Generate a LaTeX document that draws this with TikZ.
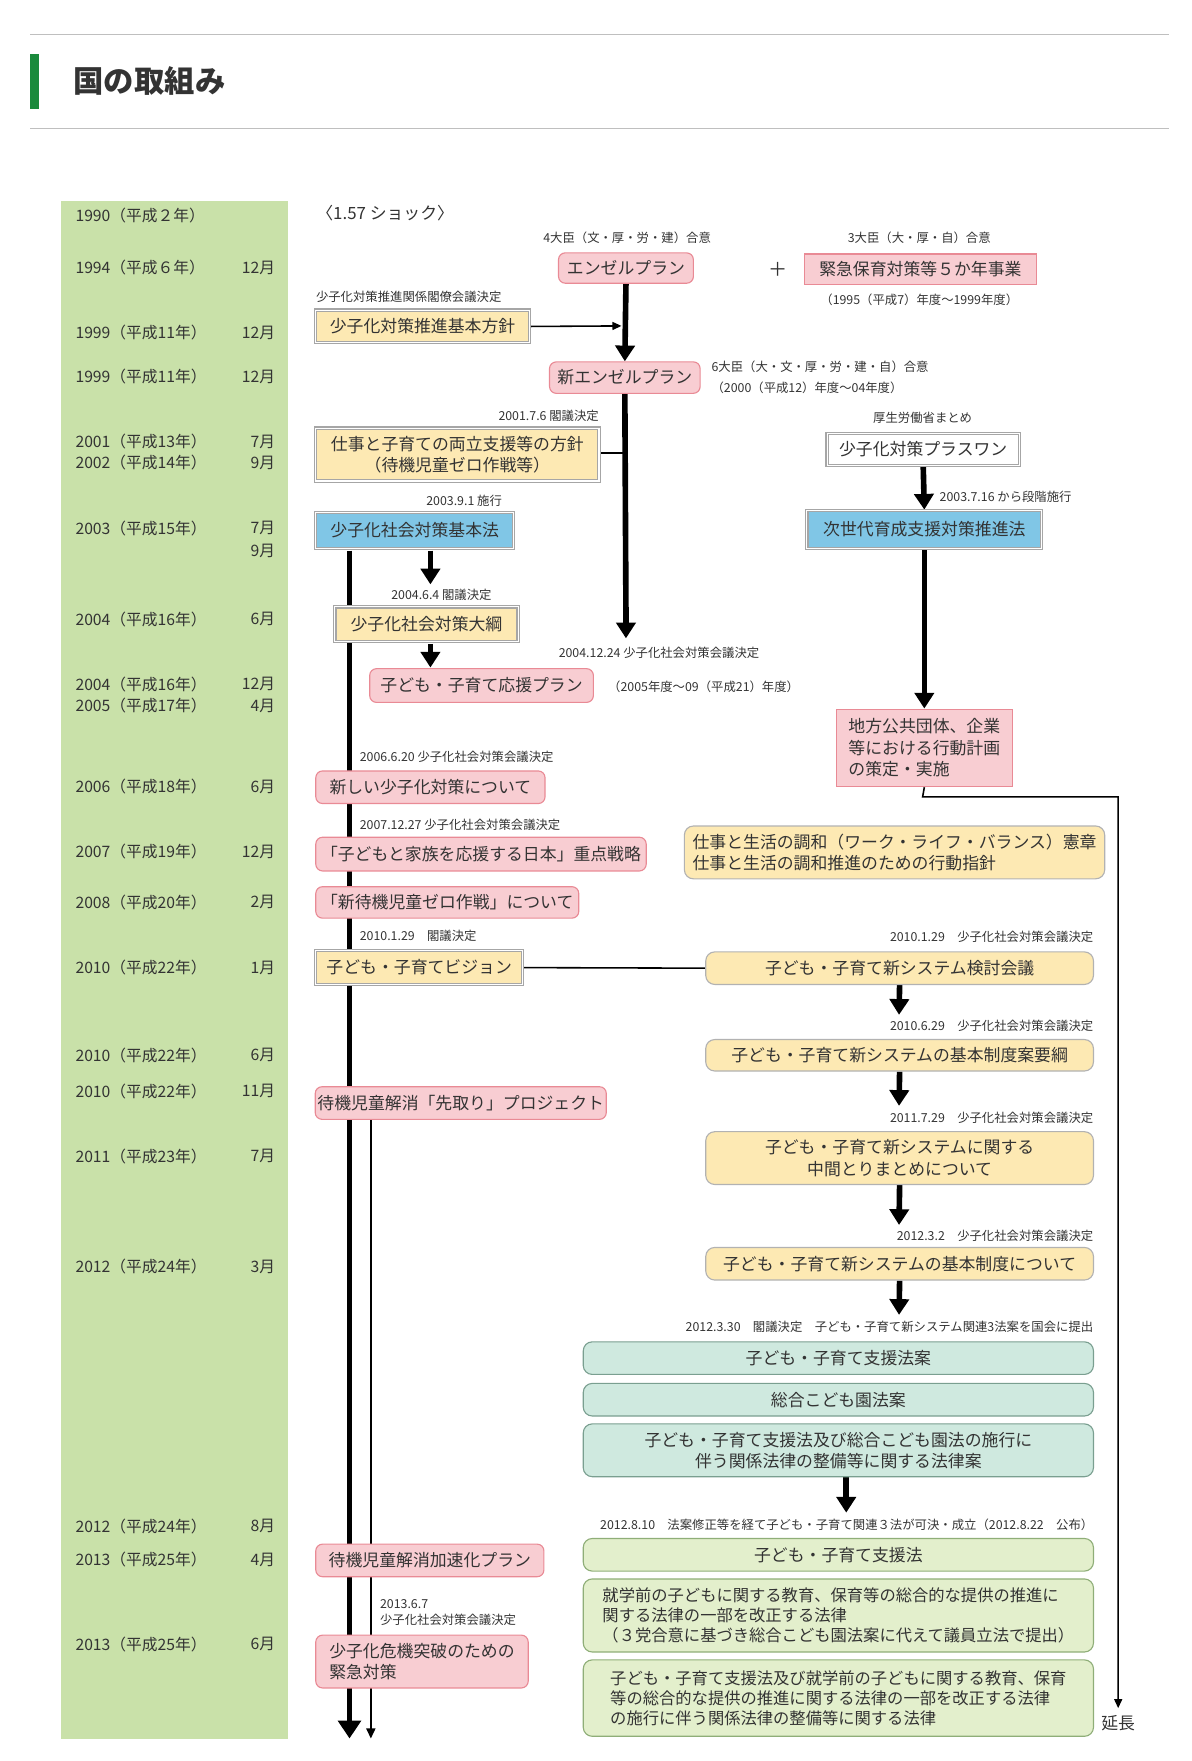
\documentclass[tikz,border=0pt]{standalone}
\usepackage{fontspec}
\setmainfont{Noto Sans CJK JP}
\usetikzlibrary{arrows.meta}
\pgfdeclarelayer{background}
\pgfsetlayers{background,main}
\definecolor{pk}{HTML}{F8CDD2}\definecolor{pkd}{HTML}{E98A95}
\definecolor{yl}{HTML}{FDE9B3}\definecolor{bl}{HTML}{80C6E6}
\definecolor{mt}{HTML}{CFE9DF}\definecolor{mtd}{HTML}{7A9F90}
\definecolor{lg}{HTML}{E3EFCC}\definecolor{lgd}{HTML}{8FAE78}
\definecolor{col}{HTML}{C9E1A9}\definecolor{tx}{HTML}{333333}
\definecolor{ttl}{HTML}{1A8A3C}
\tikzset{
 base/.style={inner sep=2pt,text=tx,font=\fontsize{15}{19}\selectfont,line width=1pt},
 pink/.style={base,fill=pk,draw=pkd,rounded corners=6pt},
 yel/.style={base,fill=yl,draw=gray!70,double=white,double distance=1pt},
 yelr/.style={base,fill=yl,draw=gray!60,rounded corners=8pt},
 blu/.style={base,fill=bl,draw=gray!70,double=white,double distance=1pt},
 wht/.style={base,fill=white,draw=gray!70,double=white,double distance=1pt},
 mint/.style={base,fill=mt,draw=mtd,rounded corners=8pt},
 lgr/.style={base,fill=lg,draw=lgd,rounded corners=8pt},
 sm/.style={text=tx,font=\fontsize{11}{14}\selectfont,inner sep=0pt},
 yr/.style={text=tx,font=\fontsize{14}{17}\selectfont,inner sep=0pt},
 big/.style={line width=5pt,-{Triangle[length=14pt,width=17pt]}},
 thin/.style={line width=1.6pt,-{Triangle[length=9pt,width=8pt]}},
 ln/.style={line width=1.4pt},
}
\newcommand\bx[8]{\node[#1,minimum width={(#5-#3)*1pt},minimum height={(#6-#4)*1pt},#8] (#2) at ({(#3+#5)/2},{(#4+#6)/2}) {#7};}
\newcommand\yrl[3]{\node[yr,anchor=west] at (67,#1) {#2};\node[yr,anchor=east] at (245,#1) {#3};}
\begin{document}
\begin{tikzpicture}[x=1pt,y=-1pt]
\useasboundingbox (0,0) rectangle (1060,1567);
\draw[gray!50,line width=1pt] (27,31) -- (1040,31);
\draw[gray!50,line width=1pt] (27,114) -- (1040,114);
\fill[ttl] (27,48) rectangle (35,97);
\node[anchor=west,text=tx,font=\fontsize{27}{30}\selectfont\bfseries] (title) at (62,72) {国の取組み};
\fill[col] (54,179) rectangle (256,1547);
\yrl{192}{1990（平成２年）}{}
\yrl{238}{1994（平成６年）}{12月}
\yrl{296}{1999（平成11年）}{12月}
\yrl{335}{1999（平成11年）}{12月}
\yrl{393}{2001（平成13年）}{7月}
\yrl{412}{2002（平成14年）}{9月}
\yrl{470}{2003（平成15年）}{7月}
\yrl{490}{}{9月}
\yrl{551}{2004（平成16年）}{6月}
\yrl{609}{2004（平成16年）}{12月}
\yrl{628}{2005（平成17年）}{4月}
\yrl{700}{2006（平成18年）}{6月}
\yrl{758}{2007（平成19年）}{12月}
\yrl{803}{2008（平成20年）}{2月}
\yrl{861}{2010（平成22年）}{1月}
\yrl{939}{2010（平成22年）}{6月}
\yrl{971}{2010（平成22年）}{11月}
\yrl{1029}{2011（平成23年）}{7月}
\yrl{1127}{2012（平成24年）}{3月}
\yrl{1358}{2012（平成24年）}{8月}
\yrl{1388}{2013（平成25年）}{4月}
\yrl{1463}{2013（平成25年）}{6月}
% texts
\node[anchor=west,text=tx,font=\fontsize{15}{18}\selectfont] (shock) at (278,190) {〈1.57 ショック〉};
\node[sm] (t1) at (558,212) {4大臣（文・厚・労・建）合意};
\node[sm] (t2) at (818,212) {3大臣（大・厚・自）合意};
\node[text=tx,font=\fontsize{17}{18}\selectfont] (plus) at (692,240) {＋};
\node[sm] (t3) at (818,267) {（1995（平成7）年度～1999年度）};
\node[sm,anchor=west] (t4) at (281,264) {少子化対策推進関係閣僚会議決定};
\node[sm,anchor=west] (t5) at (633,326) {6大臣（大・文・厚・労・建・自）合意};
\node[sm,anchor=west] (t6) at (633,345) {（2000（平成12）年度～04年度）};
\node[sm,anchor=east] (t7) at (533,370) {2001.7.6 閣議決定};
\node[sm] (t8) at (821,372) {厚生労働省まとめ};
\node[sm,anchor=west] (t9) at (836,442) {2003.7.16 から段階施行};
\node[sm] (t10) at (413,446) {2003.9.1 施行};
\node[sm,anchor=west] (t11) at (348,529) {2004.6.4 閣議決定};
\node[sm,anchor=west] (t12) at (497,581) {2004.12.24 少子化社会対策会議決定};
\node[sm,anchor=west] (t13) at (541,611) {（2005年度～09（平成21）年度）};
\node[sm,anchor=west] (t14) at (320,673) {2006.6.20 少子化社会対策会議決定};
\node[sm,anchor=west] (t15) at (320,734) {2007.12.27 少子化社会対策会議決定};
\node[sm,anchor=west] (t16) at (320,833) {2010.1.29\quad 閣議決定};
\node[sm,anchor=east] (t17) at (973,834) {2010.1.29\quad 少子化社会対策会議決定};
\node[sm,anchor=east] (t18) at (973,913) {2010.6.29\quad 少子化社会対策会議決定};
\node[sm,anchor=east] (t19) at (973,995) {2011.7.29\quad 少子化社会対策会議決定};
\node[sm,anchor=east] (t20) at (973,1100) {2012.3.2\quad 少子化社会対策会議決定};
\node[sm,anchor=east] (t21) at (973,1181) {2012.3.30\quad 閣議決定\quad 子ども・子育て新システム関連3法案を国会に提出};
\node[sm,anchor=east] (t22) at (973,1357) {2012.8.10\quad 法案修正等を経て子ども・子育て関連３法が可決・成立（2012.8.22\quad 公布）};
\node[sm,anchor=west,align=left] (t23) at (338,1435) {2013.6.7\\少子化社会対策会議決定};
\node[text=tx,font=\fontsize{15}{18}\selectfont] (ench) at (995,1533) {延長};
% boxes
\bx{pink}{angel}{497}{225}{617}{252}{エンゼルプラン}{}
\bx{pink}{kinkyu}{716}{226}{922}{253}{緊急保育対策等５か年事業}{rounded corners=0pt}
\bx{yel}{kihonhoshin}{281}{276}{471}{305}{少子化対策推進基本方針}{}
\bx{pink}{newangel}{489}{322}{623}{350}{新エンゼルプラン}{}
\bx{yel}{ryoritsu}{281}{381}{533}{428}{仕事と子育ての両立支援等の方針\\（待機児童ゼロ作戦等）}{align=center}
\bx{wht}{plusone}{736}{386}{907}{414}{少子化対策プラスワン}{}
\bx{blu}{jisedai}{718}{454}{927}{488}{次世代育成支援対策推進法}{}
\bx{blu}{kihonho}{281}{456}{457}{488}{少子化社会対策基本法}{}
\bx{yel}{taiko}{298}{540}{461}{571}{少子化社会対策大綱}{}
\bx{pink}{oen}{329}{595}{528}{625}{子ども・子育て応援プラン}{}
\bx{pink}{chiho}{744}{631}{901}{700}{地方公共団体、企業\\等における行動計画\\の策定・実施}{align=left,rounded corners=0pt}
\bx{pink}{atarashii}{281}{686}{485}{715}{新しい少子化対策について}{}
\bx{pink}{nihon}{281}{745}{575}{775}{「子どもと家族を応援する日本」重点戦略}{}
\bx{yelr}{wlb}{609}{735}{983}{782}{仕事と生活の調和（ワーク・ライフ・バランス）憲章\\仕事と生活の調和推進のための行動指針}{align=left}
\bx{pink}{zero}{281}{789}{515}{817}{「新待機児童ゼロ作戦」について}{}
\bx{yel}{vision}{281}{846}{465}{876}{子ども・子育てビジョン}{}
\bx{yelr}{kento}{628}{847}{973}{876}{子ども・子育て新システム検討会議}{}
\bx{yelr}{yoko}{628}{925}{973}{953}{子ども・子育て新システムの基本制度案要綱}{}
\bx{pink}{sakidori}{281}{967}{539}{996}{待機児童解消「先取り」プロジェクト}{}
\bx{yelr}{chukan}{628}{1007}{973}{1054}{子ども・子育て新システムに関する\\中間とりまとめについて}{align=center}
\bx{yelr}{kihonseido}{628}{1110}{973}{1139}{子ども・子育て新システムの基本制度について}{}
\bx{mint}{m1}{519}{1194}{973}{1223}{子ども・子育て支援法案}{}
\bx{mint}{m2}{519}{1231}{973}{1260}{総合こども園法案}{}
\bx{mint}{m3}{519}{1267}{973}{1314}{子ども・子育て支援法及び総合こども園法の施行に\\伴う関係法律の整備等に関する法律案}{align=center}
\bx{lgr}{g1}{519}{1369}{973}{1398}{子ども・子育て支援法}{}
\bx{lgr}{g2}{519}{1405}{973}{1470}{就学前の子どもに関する教育、保育等の総合的な提供の推進に\\関する法律の一部を改正する法律\\（３党合意に基づき総合こども園法案に代えて議員立法で提出）}{align=left,font=\fontsize{14.5}{18}\selectfont}
\bx{lgr}{g3}{519}{1477}{973}{1545}{子ども・子育て支援法及び就学前の子どもに関する教育、保育\\等の総合的な提供の推進に関する法律の一部を改正する法律\\の施行に伴う関係法律の整備等に関する法律}{align=left,font=\fontsize{14.5}{18}\selectfont}
\bx{pink}{kasoku}{281}{1374}{484}{1403}{待機児童解消加速化プラン}{}
\bx{pink}{toppa}{281}{1455}{470}{1502}{少子化危機突破のための\\緊急対策}{align=left}
% connectors
\coordinate (mainend) at (557,568);
\coordinate (leftend) at (311,1547);
\coordinate (thinend) at (330,1547);
\coordinate (encho) at (995,1520);
\begin{pgfonlayer}{background}
\draw[big] (angel.south) -- (newangel.north);
\draw[line width=5pt] (newangel.south) -- (557,548);
\draw[big] (557,540) -- (mainend);
\draw[ln,-{Triangle[length=8pt,width=7pt]}] (kihonhoshin.east) -- (553,290);
\draw[ln] (ryoritsu.east |- 0,403) -- (557,403);
\draw[big] (plusone.south) -- (jisedai.north);
\draw[big] (jisedai.south) -- (chiho.north);
\draw[ln,-{Triangle[length=8pt,width=7pt]}] (chiho.south) -- (821,709) -- (995,709) -- (encho);
\draw[big] (383,490) -- (383,520);
\draw[big] (383,573) -- (383,594);
\draw[line width=5pt,-{Triangle[length=16pt,width=20pt]}] (311,490) -- (leftend);
\draw[thin] (330,996) -- (thinend);
\draw[ln] (vision.east) -- (kento.west);
\draw[big] (kento.south) -- (800,903);
\draw[big] (yoko.south) -- (800,984);
\draw[big] (chukan.south) -- (800,1090);
\draw[big] (kihonseido.south) -- (800,1170);
\draw[big] (753,1314) -- (753,1346);
\end{pgfonlayer}
\end{tikzpicture}
\end{document}
